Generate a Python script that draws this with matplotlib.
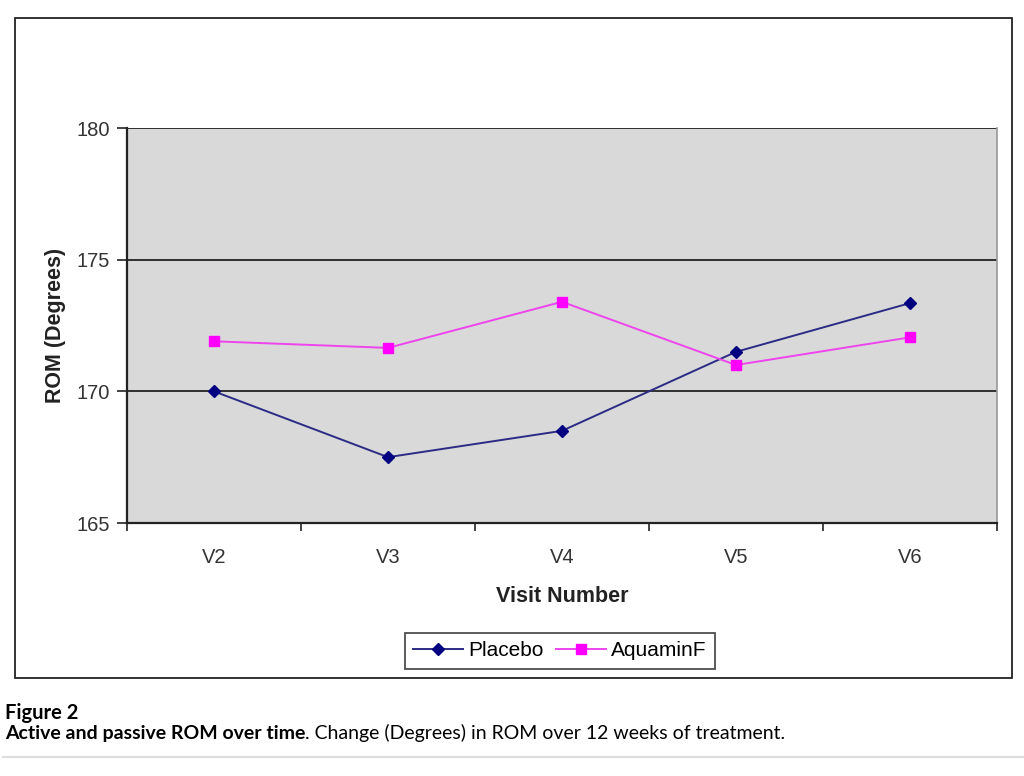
import matplotlib
matplotlib.use("Agg")
import matplotlib.pyplot as plt
from matplotlib.patches import Rectangle
from matplotlib.lines import Line2D

visits = ["V2", "V3", "V4", "V5", "V6"]
placebo = [170.0, 167.5, 168.5, 171.5, 173.35]
aquamin = [171.9, 171.65, 173.4, 171.0, 172.05]

W, H = 1024, 776
fig = plt.figure(figsize=(W / 100, H / 100), dpi=100)
plt.rcParams['font.family'] = ['Liberation Sans', 'DejaVu Sans']

# outer chart frame
fig.patches.append(Rectangle((15 / W, 1 - 678 / H), (1012 - 15) / W, (678 - 18) / H,
                             transform=fig.transFigure, fill=False,
                             edgecolor='#222222', linewidth=1.3))

ax = fig.add_axes([127 / W, 1 - 523 / H, (997 - 127) / W, (523 - 128) / H])
ax.set_facecolor('#d9d9d9')

x = list(range(len(visits)))
ax.plot(x, placebo, color='#2b2b85', linewidth=1.4, marker='D', markersize=6,
        markerfacecolor='#000080', markeredgecolor='#000080', label='Placebo', zorder=3)
ax.plot(x, aquamin, color='#ee44ee', linewidth=1.4, marker='s', markersize=7,
        markerfacecolor='#ff00ff', markeredgecolor='#ff00ff', label='AquaminF', zorder=3)

ax.set_xlim(-0.5, len(visits) - 0.5)
ax.set_ylim(165, 180)
ax.set_yticks([165, 170, 175, 180])
ax.set_xticks(x)
ax.set_xticklabels(visits)
ax.set_xticks([i - 0.5 for i in range(len(visits) + 1)], minor=True)
ax.tick_params(axis='x', which='major', length=0, pad=18, labelsize=14.5, labelcolor='#333333')
ax.tick_params(axis='x', which='minor', length=6, width=1.2, color='#222222')
ax.tick_params(axis='y', length=7, width=1.2, pad=5, labelsize=14.5, labelcolor='#333333', color='#222222')

for yv in [170, 175, 180]:
    ax.axhline(yv, color='#222222', linewidth=1.3, zorder=1)

for s in ['left', 'bottom']:
    ax.spines[s].set_linewidth(1.6)
    ax.spines[s].set_color('#222222')
ax.spines['top'].set_visible(False)
ax.spines['right'].set_color('#999999')
ax.spines['right'].set_linewidth(1.2)

ax.set_xlabel('Visit Number', fontsize=15.5, fontweight='bold', labelpad=14, color='#222222')
ax.set_ylabel('ROM (Degrees)', fontsize=15.5, fontweight='bold', labelpad=8, color='#222222')

leg = fig.legend(loc='center', bbox_to_anchor=(560 / W, 1 - 651 / H), ncol=2,
                 fontsize=15, frameon=True, fancybox=False, edgecolor='#222222',
                 handlelength=2.4, columnspacing=0.6, handletextpad=0.25, borderpad=0.4)
leg.get_frame().set_linewidth(1.3)

# caption
cap_font = ['Lato', 'DejaVu Sans']
fig.text(5 / W, 1 - 713 / H, 'Figure 2', fontsize=14.5, fontweight='bold',
         family=cap_font, va='center', ha='left')
t1 = fig.text(5 / W, 1 - 733 / H, 'Active and passive ROM over time', fontsize=14,
              fontweight='bold', family=cap_font, va='center', ha='left')
fig.canvas.draw()
bb = t1.get_window_extent()
fig.text(bb.x1 / W, 1 - 733 / H, '. Change (Degrees) in ROM over 12 weeks of treatment.',
         fontsize=14, family=cap_font, va='center', ha='left')

fig.add_artist(Line2D([3 / W, 1], [1 - 757 / H, 1 - 757 / H], transform=fig.transFigure,
                      color='#dddddd', linewidth=1.5))

fig.savefig('out.png', dpi=100)
